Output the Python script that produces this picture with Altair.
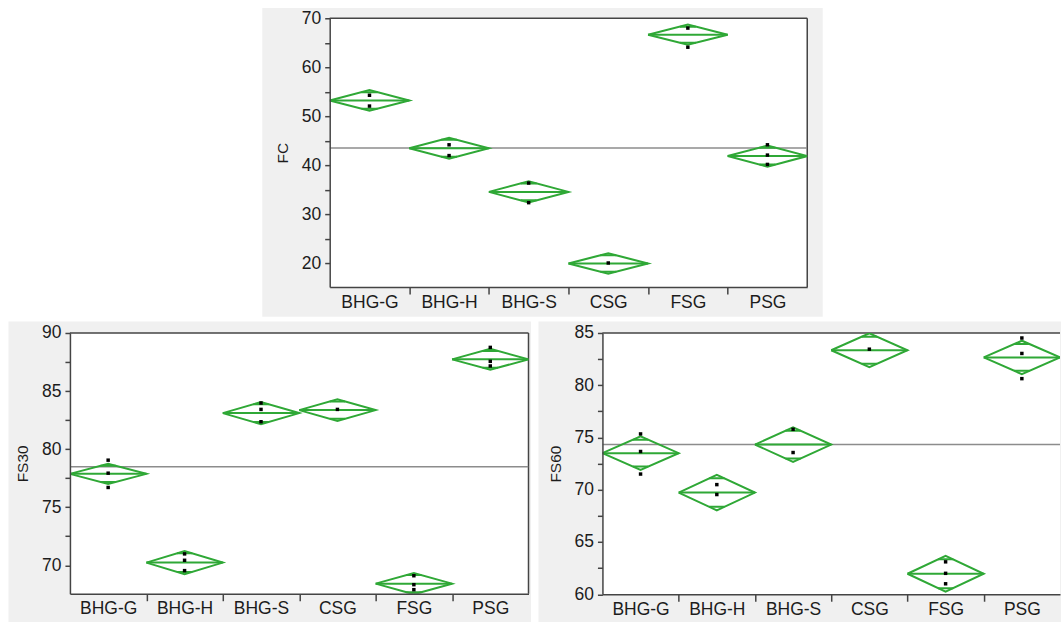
import json
import altair as alt
import pandas as pd

groups = ["BHG-G", "BHG-H", "BHG-S", "CSG", "FSG", "PSG"]

# FC panel
fc_mean = [53.25, 43.5, 34.6, 20.0, 66.65, 41.9]
fc_ci = [2.1, 2.15, 2.15, 2.1, 2.05, 2.15]
fc_points = [[54.3, 52.1], [44.2, 42.0], [36.4, 32.4], [20.1], [68.0, 64.1], [44.2, 42.1, 40.2]]
fc_grand = 43.54

# FS30 panel
fs30_mean = [77.87, 70.23, 83.1, 83.36, 68.42, 87.73]
fs30_ci = [0.87, 1.0, 0.95, 0.93, 0.92, 0.9]
fs30_points = [[79.05, 77.93, 76.7], [70.98, 70.43, 69.54], [83.97, 83.42, 82.36],
               [83.42], [69.1, 68.33, 67.9], [88.76, 87.56, 87.16]]
fs30_grand = 78.48

# FS60 panel
fs60_mean = [73.5, 69.73, 74.32, 83.35, 61.96, 82.66]
fs60_ci = [1.6, 1.7, 1.65, 1.62, 1.72, 1.6]
fs60_points = [[75.34, 73.66, 71.5], [70.49, 69.54], [75.78, 73.56],
               [83.45], [63.1, 62.0, 61.0], [84.52, 83.04, 80.63]]
fs60_grand = 74.32

OVERLAP = 0.8
GREEN = "#2fa836"
FRAME = "#444444"
FONT = "Liberation Sans"
TXT = "#1c1c1c"


def make_panel(title, means, cis, pts, grand, ydom, yvals, ylabel_step,
               w, h, gray, right_frame=True):
    n = len(groups)
    segs, points = [], []
    sid = 0
    for i, (m, c) in enumerate(zip(means, cis)):
        # diamond outline
        for k, (dx, dy) in enumerate([(0, 0), (0.5, 1), (1, 0), (0.5, -1), (0, 0)]):
            segs.append(dict(s=sid, o=k, x=i + dx, y=m + dy * c))
        sid += 1
        # mean line
        segs.append(dict(s=sid, o=0, x=i, y=m))
        segs.append(dict(s=sid, o=1, x=i + 1, y=m))
        sid += 1
        # overlap marks
        half = (1 - OVERLAP) / 2
        for sg in (1, -1):
            yy = m + sg * OVERLAP * c
            segs.append(dict(s=sid, o=0, x=i + 0.5 - half, y=yy))
            segs.append(dict(s=sid, o=1, x=i + 0.5 + half, y=yy))
            sid += 1
        for v in pts[i]:
            points.append(dict(x=i + 0.5, y=v))
    grand_df = pd.DataFrame([dict(s=0, o=0, x=0, y=grand), dict(s=0, o=1, x=n, y=grand)])

    names = json.dumps(groups)
    xaxis = alt.Axis(
        values=[k / 2 for k in range(1, 2 * n)],
        labelExpr=f"datum.value % 1 !== 0 ? {names}[floor(datum.value)] : ''",
        tickOpacity={"condition": {"test": "datum.value % 1 === 0", "value": 1}, "value": 0},
        tickSize=7, tickWidth=1.5, tickColor=FRAME,
        domainColor=FRAME, domainWidth=1.5,
        labelFont=FONT, labelFontSize=17.5, labelColor=TXT, labelPadding=-1,
        labelOverlap=False, labelFlush=False, grid=False, zindex=1, title=None,
    )
    yaxis = alt.Axis(
        values=yvals,
        labelExpr=f"datum.value % {ylabel_step} === 0 ? datum.label : ''",
        tickSize=5, tickWidth=1.5, tickColor=FRAME,
        domainColor=FRAME, domainWidth=1.5,
        labelFont=FONT, labelFontSize=17.5, labelColor=TXT, labelPadding=4,
        labelOverlap=False, labelFlush=False, grid=False, zindex=1,
        title=title, titleFont=FONT, titleFontSize=15.5, titleFontWeight="normal",
        titleColor=TXT, titleX=-47, titleY=h / 2, titleAngle=270,
        titleAlign="center", titleBaseline="middle",
    )
    xs = alt.Scale(domain=[0, n], nice=False, zero=False)
    ys = alt.Scale(domain=ydom, nice=False, zero=False)

    def X(f):
        return alt.X(f, type="quantitative", scale=xs, axis=xaxis)

    def Y(f):
        return alt.Y(f, type="quantitative", scale=ys, axis=yaxis)

    dummy = pd.DataFrame({"d": [0]})
    layers = []
    layers.append(alt.Chart(dummy).mark_rect(fill="#f0f0f0").encode(
        x=alt.value(gray[0]), x2=alt.value(gray[1]),
        y=alt.value(gray[2]), y2=alt.value(gray[3])))
    layers.append(alt.Chart(dummy).mark_rect(fill="white").encode(
        x=alt.value(0), x2=alt.value(w), y=alt.value(0), y2=alt.value(h)))
    layers.append(alt.Chart(dummy).mark_rule(color=FRAME, strokeWidth=1.5).encode(
        x=alt.value(0), x2=alt.value(w), y=alt.value(0)))
    if right_frame:
        layers.append(alt.Chart(dummy).mark_rule(color=FRAME, strokeWidth=1.5).encode(
            x=alt.value(w), y=alt.value(0), y2=alt.value(h)))
    layers.append(alt.Chart(grand_df).mark_line(color="#8c8c8c", strokeWidth=1.5, clip=True).encode(
        x=X("x"), y=Y("y"), detail="s:N", order="o:Q"))
    layers.append(alt.Chart(pd.DataFrame(segs)).mark_line(color=GREEN, strokeWidth=2, clip=True).encode(
        x=X("x"), y=Y("y"), detail="s:N", order="o:Q"))
    layers.append(alt.Chart(pd.DataFrame(points)).mark_square(color="black", size=12, opacity=1).encode(
        x=X("x"), y=Y("y")))
    return alt.layer(*layers).properties(width=w, height=h)


fc = make_panel("FC", fc_mean, fc_ci, fc_points, fc_grand, [15.2, 70],
                [20 + 5 * k for k in range(11)], 10, 478, 269,
                (-67.5, 493.5, -10.3, 298.7))
fs30 = make_panel("FS30", fs30_mean, fs30_ci, fs30_points, fs30_grand, [67.55, 90],
                  [70 + 2.5 * k for k in range(9)], 5, 459, 261,
                  (-61.5, 461.5, -11.5, 290.5))
fs60 = make_panel("FS60", fs60_mean, fs60_ci, fs60_points, fs60_grand, [60, 85],
                  [60 + 2.5 * k for k in range(11)], 5, 458, 261.5,
                  (-64, 459, -11.5, 290.5), right_frame=False)

# empty white spacer that pushes the FC panel to the right
spacer = alt.Chart(pd.DataFrame({"d": [0]})).mark_rect(fill="white").encode(
    x=alt.value(0), x2=alt.value(191.5), y=alt.value(0), y2=alt.value(1)
).properties(width=191.5, height=1)

top_row = alt.hconcat(spacer, fc, spacing=0)
bottom_row = alt.hconcat(fs30, fs60, spacing=7)

chart = alt.vconcat(top_row, bottom_row, spacing=4).properties(
    padding={"left": 8, "top": 7, "right": 0, "bottom": 0},
    background="white",
).configure_view(stroke=None)

chart.save("out.html", embed_options={"renderer": "svg", "actions": False})
